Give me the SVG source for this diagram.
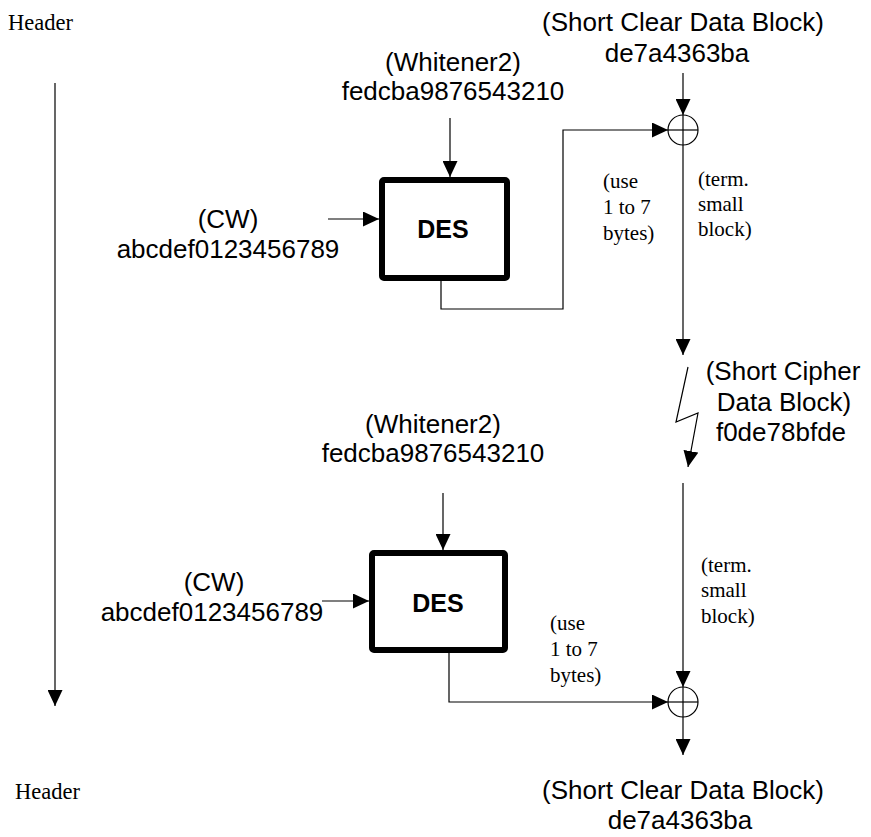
<svg xmlns="http://www.w3.org/2000/svg" width="871" height="837" viewBox="0 0 871 837">
<style>
.sans{font-family:"Liberation Sans",Arial,sans-serif;font-size:26px;fill:#000}
.serif{font-family:"Liberation Serif","Times New Roman",serif;font-size:21px;fill:#000}
.hdr{font-family:"Liberation Serif","Times New Roman",serif;font-size:22.5px;fill:#000}
.des{font-family:"Liberation Sans",Arial,sans-serif;font-size:25px;font-weight:bold;fill:#000}
.ln{stroke:#000;stroke-width:1.2;fill:none}
.box{fill:#fff;stroke:#000;stroke-width:6}
.xor{fill:none;stroke:#000;stroke-width:1.2}
</style>
<defs>
<marker id="ah" viewBox="0 0 16 15" refX="16" refY="7.5" markerWidth="16" markerHeight="15" markerUnits="userSpaceOnUse" orient="auto">
<path d="M0,0 L16,7.5 L0,15 z" fill="#000"/>
</marker>
</defs>
<rect width="871" height="837" fill="#fff"/>

<g id="header-top"><text class="hdr" x="8" y="30">Header</text></g>
<g id="header-bottom"><text class="hdr" x="15" y="799">Header</text></g>

<g id="clear-top">
<text class="sans" x="683" y="31" text-anchor="middle">(Short Clear Data Block)</text>
<text class="sans" x="677" y="62" text-anchor="middle">de7a4363ba</text>
</g>
<g id="whitener-top">
<text class="sans" x="453" y="71" text-anchor="middle">(Whitener2)</text>
<text class="sans" x="453" y="100" text-anchor="middle">fedcba9876543210</text>
</g>
<g id="cw-top">
<text class="sans" x="228" y="228" text-anchor="middle">(CW)</text>
<text class="sans" x="228" y="258" text-anchor="middle">abcdef0123456789</text>
</g>
<g id="des-top">
<rect class="box" x="382" y="180" width="125" height="98" rx="2"/>
<text class="des" x="443" y="238" text-anchor="middle">DES</text>
</g>
<g id="xor-top">
<circle class="xor" cx="683" cy="130" r="15"/>
<line class="xor" x1="668" y1="130" x2="698" y2="130"/>
<line class="xor" x1="683" y1="115" x2="683" y2="145"/>
</g>
<g id="use-top">
<text class="serif" x="603" y="188">(use</text>
<text class="serif" x="603" y="214">1 to 7</text>
<text class="serif" x="603" y="240">bytes)</text>
</g>
<g id="term-top">
<text class="serif" x="698" y="186">(term.</text>
<text class="serif" x="698" y="211">small</text>
<text class="serif" x="698" y="236">block)</text>
</g>
<g id="cipher">
<text class="sans" x="783" y="380" text-anchor="middle">(Short Cipher</text>
<text class="sans" x="784" y="411" text-anchor="middle">Data Block)</text>
<text class="sans" x="781" y="441" text-anchor="middle">f0de78bfde</text>
</g>

<g id="whitener-bottom">
<text class="sans" x="433" y="433" text-anchor="middle">(Whitener2)</text>
<text class="sans" x="433" y="462" text-anchor="middle">fedcba9876543210</text>
</g>
<g id="cw-bottom">
<text class="sans" x="214" y="591" text-anchor="middle">(CW)</text>
<text class="sans" x="212" y="621" text-anchor="middle">abcdef0123456789</text>
</g>
<g id="des-bottom">
<rect class="box" x="372" y="553" width="133" height="97" rx="2"/>
<text class="des" x="438" y="612" text-anchor="middle">DES</text>
</g>
<g id="xor-bottom">
<circle class="xor" cx="683" cy="702" r="15"/>
<line class="xor" x1="668" y1="702" x2="698" y2="702"/>
<line class="xor" x1="683" y1="687" x2="683" y2="717"/>
</g>
<g id="use-bottom">
<text class="serif" x="550" y="630">(use</text>
<text class="serif" x="550" y="656">1 to 7</text>
<text class="serif" x="550" y="682">bytes)</text>
</g>
<g id="term-bottom">
<text class="serif" x="701" y="572">(term.</text>
<text class="serif" x="701" y="597">small</text>
<text class="serif" x="701" y="623">block)</text>
</g>
<g id="clear-bottom">
<text class="sans" x="683" y="799" text-anchor="middle">(Short Clear Data Block)</text>
<text class="sans" x="680" y="829" text-anchor="middle">de7a4363ba</text>
</g>

<g id="connectors">
<line class="ln" x1="55" y1="83" x2="55" y2="706" marker-end="url(#ah)"/>
<line class="ln" x1="683" y1="73" x2="683" y2="115" marker-end="url(#ah)"/>
<line class="ln" x1="450" y1="118" x2="450" y2="177" marker-end="url(#ah)"/>
<line class="ln" x1="328" y1="219" x2="379" y2="219" marker-end="url(#ah)"/>
<polyline class="ln" points="441,281 441,309 563,309 563,130 668,130" marker-end="url(#ah)"/>
<line class="ln" x1="683" y1="145" x2="683" y2="355" marker-end="url(#ah)"/>
<polyline class="ln" points="688,367 676,422 698,413 688,467" marker-end="url(#ah)"/>
<line class="ln" x1="443" y1="493" x2="443" y2="550" marker-end="url(#ah)"/>
<line class="ln" x1="322" y1="601" x2="369" y2="601" marker-end="url(#ah)"/>
<line class="ln" x1="683" y1="483" x2="683" y2="687" marker-end="url(#ah)"/>
<polyline class="ln" points="449,653 449,702 668,702" marker-end="url(#ah)"/>
<line class="ln" x1="683" y1="717" x2="683" y2="755" marker-end="url(#ah)"/>
</g>
</svg>
